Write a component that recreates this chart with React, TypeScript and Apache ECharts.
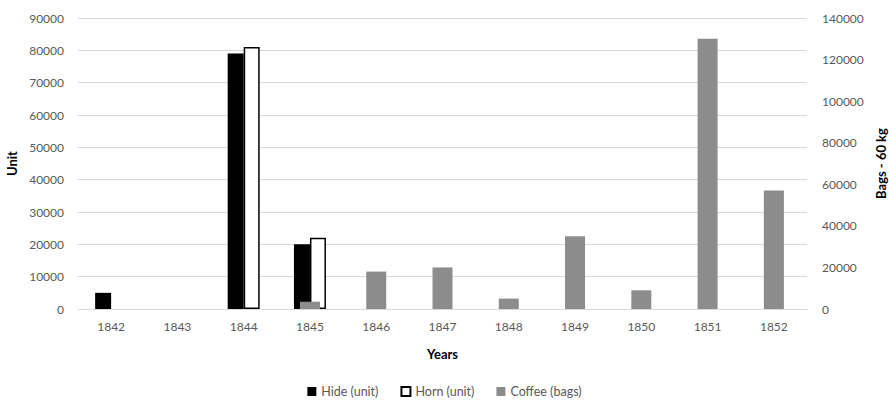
import React, { useEffect, useRef } from "react";
import * as echarts from "echarts";

const years = ["1842", "1843", "1844", "1845", "1846", "1847", "1848", "1849", "1850", "1851", "1852"];
const hide = [5000, null, 79000, 20000, null, null, null, null, null, null, null];
const horn = [null, null, 81000, 22000, null, null, null, null, null, null, null];
const coffee = [null, null, null, 3500, 18000, 20000, 5000, 35000, 9000, 130000, 57000];

const FONT = "Lato, 'Open Sans', sans-serif";

export default function App() {
  const ref = useRef<HTMLDivElement>(null);
  useEffect(() => {
    if (!ref.current) return;
    const chart = echarts.init(ref.current, undefined, { renderer: "svg" });
    chart.setOption({
      animation: false,
      textStyle: { fontFamily: FONT },
      grid: { left: 78, right: 82, top: 18, bottom: 91, containLabel: false, outerBoundsMode: "none" },
      legend: {
        bottom: -3,
        left: "center",
        itemWidth: 9,
        itemHeight: 9,
        itemGap: 22,
        textStyle: { color: "#595959", fontSize: 12.5, fontFamily: FONT },
        data: [
          { name: "Hide (unit)", icon: "rect" },
          { name: "Horn (unit)", icon: "rect" },
          { name: "Coffee (bags)", icon: "rect" },
        ],
      },
      xAxis: [
        {
          type: "category",
          data: years,
          name: "Years",
          nameLocation: "middle",
          nameGap: 38,
          nameTextStyle: { color: "#000", fontWeight: "bold", fontSize: 13, fontFamily: FONT },
          axisLine: { lineStyle: { color: "#d9d9d9" } },
          axisTick: { show: false },
          axisLabel: { color: "#595959", fontSize: 12, margin: 11 },
        },
        { type: "category", data: years, show: false },
      ],
      yAxis: [
        {
          type: "value",
          min: 0,
          max: 90000,
          interval: 10000,
          name: "Unit",
          nameLocation: "middle",
          nameGap: 56,
          nameTextStyle: { color: "#000", fontWeight: "bold", fontSize: 13, fontFamily: FONT },
          axisLabel: { color: "#595959", fontSize: 12, margin: 14, formatter: (v: number) => String(v) },
          splitLine: { lineStyle: { color: "#d9d9d9" } },
        },
        {
          type: "value",
          min: 0,
          max: 140000,
          interval: 20000,
          name: "Bags - 60 kg",
          nameLocation: "middle",
          nameGap: 65,
          nameRotate: 90,
          nameTextStyle: { color: "#000", fontWeight: "bold", fontSize: 13, fontFamily: FONT },
          axisLabel: { color: "#595959", fontSize: 12, margin: 15, formatter: (v: number) => String(v) },
          splitLine: { show: false },
        },
      ],
      series: [
        {
          name: "Hide (unit)",
          type: "bar",
          xAxisIndex: 0,
          yAxisIndex: 0,
          data: hide,
          barWidth: 16,
          barGap: "0%",
          itemStyle: { color: "#000" },
        },
        {
          name: "Horn (unit)",
          type: "bar",
          xAxisIndex: 0,
          yAxisIndex: 0,
          data: horn,
          barWidth: 16,
          barGap: "0%",
          itemStyle: { color: "#fff", borderColor: "#000", borderWidth: 1.5 },
        },
        {
          name: "Coffee (bags)",
          type: "bar",
          xAxisIndex: 1,
          yAxisIndex: 1,
          data: coffee,
          barWidth: 20,
          itemStyle: { color: "#8c8c8c" },
        },
      ],
    });
    return () => chart.dispose();
  }, []);
  return <div ref={ref} style={{ width: 889, height: 400, position: "absolute", left: 0, top: 0 }} />;
}
